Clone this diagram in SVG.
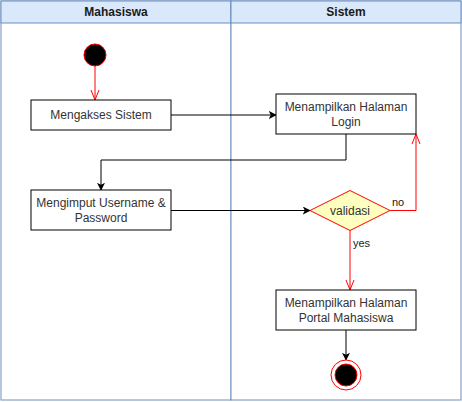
<svg xmlns="http://www.w3.org/2000/svg" width="462" height="402" viewBox="0 0 462 402">
<style>
.lane{fill:#ffffff;stroke:#6c8ebf;stroke-width:1}
.hdr{fill:#dae8fc;stroke:#6c8ebf;stroke-width:1}
.ht{font-family:"Liberation Sans",Arial,sans-serif;font-size:12px;font-weight:bold;fill:#1a1a1a;text-anchor:middle}
.box{fill:#ffffff;stroke:#000000;stroke-width:1}
.t{font-family:"Liberation Sans",Arial,sans-serif;font-size:12px;fill:#333333;text-anchor:middle}
.lbl{font-family:"Liberation Sans",Arial,sans-serif;font-size:11px;fill:#1a1a1a}
.k{fill:none;stroke:#000000;stroke-width:1}
.r{fill:none;stroke:#ff0000;stroke-width:1}
</style>
<defs>
<marker id="ab" viewBox="0 0 10 10" refX="9" refY="5" markerWidth="8" markerHeight="8" markerUnits="userSpaceOnUse" orient="auto">
<path d="M0,0 L10,5 L0,10 L2.5,5 Z" fill="#000000"/>
</marker>
<marker id="ar" viewBox="0 0 10 10" refX="10" refY="5" markerWidth="10" markerHeight="10" markerUnits="userSpaceOnUse" orient="auto">
<path d="M0,1 L10,5 L0,9" fill="none" stroke="#ff0000" stroke-width="1"/>
</marker>
</defs>
<g id="lane-mahasiswa">
<rect class="lane" x="1" y="1" width="230" height="399"/>
<rect class="hdr" x="1" y="1" width="230" height="22"/>
<text class="ht" x="116" y="16">Mahasiswa</text>
</g>
<g id="lane-sistem">
<rect class="lane" x="231" y="1" width="230" height="399"/>
<rect class="hdr" x="231" y="1" width="230" height="22"/>
<text class="ht" x="346" y="16">Sistem</text>
</g>
<g id="connectors">
<path class="r" d="M95,66 L95,100" marker-end="url(#ar)"/>
<path class="k" d="M171,115 L276,115" marker-end="url(#ab)"/>
<path class="k" d="M346,134 L346,160 L101,160 L101,190" marker-end="url(#ab)"/>
<path class="k" d="M171,210.5 L310,210.5" marker-end="url(#ab)"/>
<path class="r" d="M390,210.5 L416,210.5 L416,134" marker-end="url(#ar)"/>
<path class="r" d="M350,230.5 L350,290" marker-end="url(#ar)"/>
<path class="k" d="M346,330 L346,360" marker-end="url(#ab)"/>
<text class="lbl" x="392" y="206">no</text>
<text class="lbl" x="353" y="247">yes</text>
</g>
<g id="start">
<circle cx="95" cy="55" r="11" fill="#000000" stroke="#ff0000" stroke-width="1"/>
</g>
<g id="mengakses">
<rect class="box" x="31" y="100" width="140" height="30"/>
<text class="t" x="101" y="119">Mengakses Sistem</text>
</g>
<g id="login">
<rect class="box" x="276" y="94" width="140" height="40"/>
<text class="t" x="346" y="111">Menampilkan Halaman</text>
<text class="t" x="346" y="126">Login</text>
</g>
<g id="mengimput">
<rect class="box" x="31" y="190" width="140" height="40"/>
<text class="t" x="101" y="207">Mengimput Username &amp;</text>
<text class="t" x="101" y="222">Password</text>
</g>
<g id="validasi">
<path d="M310,210.5 L350,190.5 L390,210.5 L350,230.5 Z" fill="#ffffc0" stroke="#ff0000" stroke-width="1"/>
<text class="t" x="350" y="215">validasi</text>
</g>
<g id="portal">
<rect class="box" x="276" y="290" width="140" height="40"/>
<text class="t" x="346" y="307">Menampilkan Halaman</text>
<text class="t" x="346" y="322">Portal Mahasiswa</text>
</g>
<g id="end">
<circle cx="346" cy="375" r="15" fill="#ffffff" stroke="#ff0000" stroke-width="1"/>
<circle cx="346" cy="375" r="11" fill="#000000" stroke="#ff0000" stroke-width="1"/>
</g>
</svg>
